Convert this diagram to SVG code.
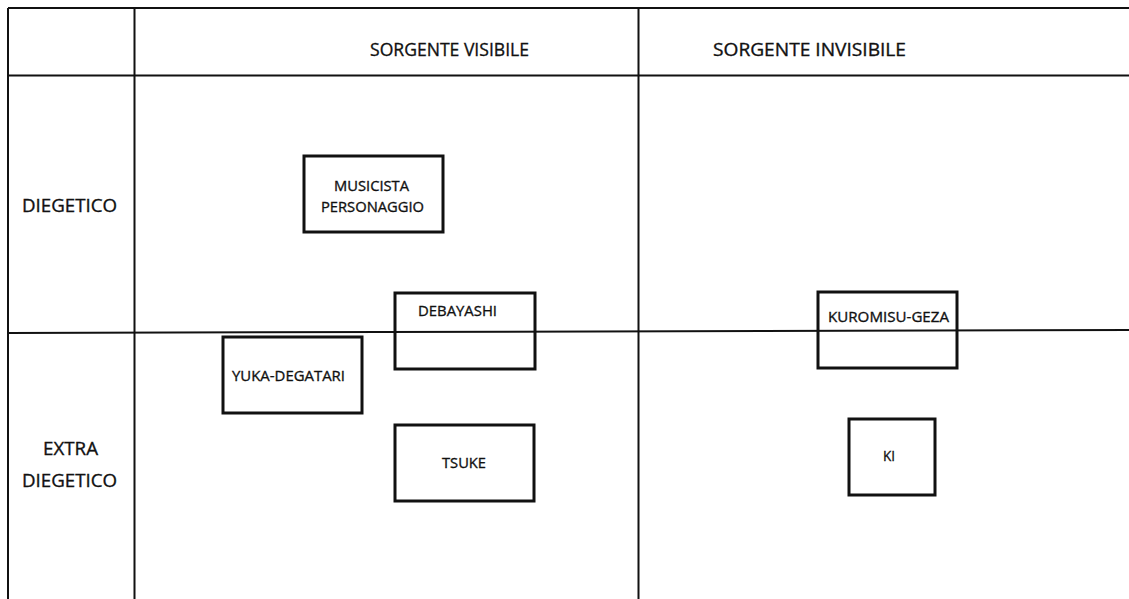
<svg xmlns="http://www.w3.org/2000/svg" width="1129" height="599" viewBox="0 0 1129 599">
<style>
.grid{stroke:#111;stroke-width:2;fill:none}
.box{stroke:#111;stroke-width:3;fill:none}
.t{font-family:"Open Sans","Liberation Sans",sans-serif;fill:#111;stroke:#111;stroke-width:0.35}
.h{font-size:19px}
.n{font-size:15px}
</style>
<rect width="1129" height="599" fill="#fff"/>
<g id="grid">
<line class="grid" x1="8" y1="8" x2="1129" y2="8"/>
<line class="grid" x1="8" y1="75.5" x2="1129" y2="75.5"/>
<line class="grid" x1="8" y1="8" x2="8" y2="599"/>
<line class="grid" x1="134.5" y1="8" x2="134.5" y2="599"/>
<line class="grid" x1="638.5" y1="8" x2="638.5" y2="599"/>
<line class="grid" x1="8" y1="333" x2="1129" y2="330"/>
</g>
<g id="headers">
<text class="t h" x="370" y="56" textLength="159" lengthAdjust="spacingAndGlyphs">SORGENTE VISIBILE</text>
<text class="t h" x="713" y="56" textLength="193" lengthAdjust="spacingAndGlyphs">SORGENTE INVISIBILE</text>
<text class="t h" x="22" y="212" textLength="95" lengthAdjust="spacingAndGlyphs">DIEGETICO</text>
<text class="t h" x="43" y="455" textLength="55" lengthAdjust="spacingAndGlyphs">EXTRA</text>
<text class="t h" x="22" y="487" textLength="95" lengthAdjust="spacingAndGlyphs">DIEGETICO</text>
</g>
<g id="musicista">
<rect class="box" x="304" y="156" width="139" height="76"/>
<text class="t n" x="334" y="191" textLength="75" lengthAdjust="spacingAndGlyphs">MUSICISTA</text>
<text class="t n" x="321" y="211.5" textLength="103" lengthAdjust="spacingAndGlyphs">PERSONAGGIO</text>
</g>
<g id="debayashi">
<rect class="box" x="395" y="293" width="140" height="76"/>
<text class="t n" x="418" y="316" textLength="79" lengthAdjust="spacingAndGlyphs">DEBAYASHI</text>
</g>
<g id="yuka">
<rect class="box" x="223" y="337" width="139" height="76"/>
<text class="t n" x="232" y="381" textLength="113" lengthAdjust="spacingAndGlyphs">YUKA-DEGATARI</text>
</g>
<g id="tsuke">
<rect class="box" x="395" y="425" width="139" height="76"/>
<text class="t n" x="442" y="468" textLength="44" lengthAdjust="spacingAndGlyphs">TSUKE</text>
</g>
<g id="kuromisu">
<rect class="box" x="818" y="292" width="139" height="76"/>
<text class="t n" x="828" y="322" textLength="121" lengthAdjust="spacingAndGlyphs">KUROMISU-GEZA</text>
</g>
<g id="ki">
<rect class="box" x="849" y="419" width="86" height="76"/>
<text class="t n" x="883" y="461" textLength="12" lengthAdjust="spacingAndGlyphs">KI</text>
</g>
</svg>
